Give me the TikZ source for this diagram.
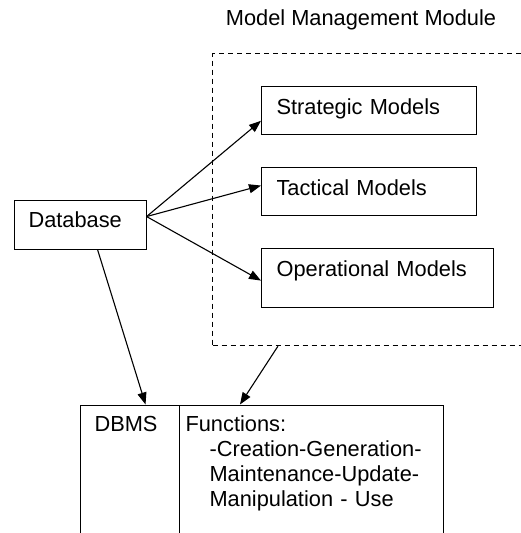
\documentclass[tikz,border=0pt]{standalone}
\usepackage{fontspec}
\setmainfont{Liberation Sans}
\usetikzlibrary{arrows.meta}
\usetikzlibrary{calc}

\begin{document}
\begin{tikzpicture}[->,>={Triangle[length=12pt,width=9pt]},x=1pt,y=-1pt,line width=1.1pt,
	font=\fontsize{21.8}{25}\selectfont]
	\tikzset{vertex/.style = {shape=rectangle, draw, anchor=north west, align=left, inner xsep=15pt, inner ysep=0pt, text height=28pt}}
	\tikzset{module/.style = {shape=rectangle, draw, dash pattern=on 5pt off 4pt, anchor=north west, inner sep=0pt}}
	\useasboundingbox (0,0) rectangle (521,533);
	\clip (0,0) rectangle (521,533);

	\node[anchor=base] (TITLE) at (361,25) {Model Management Module};
	\node[module, minimum width=350pt, minimum height=292pt] (MMM) at (212,53) {};

	\node[vertex, text width=185pt, text depth=19.5pt] (STRAT) at (261,86) {Strategic Models};
	\node[vertex, text width=185pt, text depth=20pt] (TACT) at (261,167) {Tactical Models};
	\node[vertex, text width=202pt, text depth=30.5pt] (OPER) at (261,248.3) {Operational Models};

	\node[vertex, inner xsep=14.5pt, text width=103pt, text height=27.5pt, text depth=21.5pt] (DB) at (13.5,199.5) {Database};

	\node[vertex, inner xsep=14pt, text width=71pt, text height=26.5pt, text depth=120pt] (DBMS) at (80,404.5) {DBMS};
	\node[vertex, inner xsep=6pt, text width=251.5pt, text height=26.5pt, text depth=120pt] (FUNC) at (179,404.5)
	{Functions:\\
		\hspace*{24pt}-Creation-Generation-\\
		\hspace*{24pt}Maintenance-Update-\\
		\hspace*{24pt}Manipulation - Use};

	\draw ([yshift=8pt]DB.east) -- ([yshift=-10.5pt]STRAT.west);
	\draw ([yshift=8pt]DB.east) -- ([yshift=6pt]TACT.west);
	\draw ([yshift=8pt]DB.east) -- ([yshift=-2.5pt]OPER.west);
	\draw ([xshift=17.5pt]DB.south) -- ([xshift=15.5pt]DBMS.north);
	\draw ([xshift=66pt]MMM.south west) -- ([xshift=61pt]FUNC.north west);
\end{tikzpicture}
\end{document}
